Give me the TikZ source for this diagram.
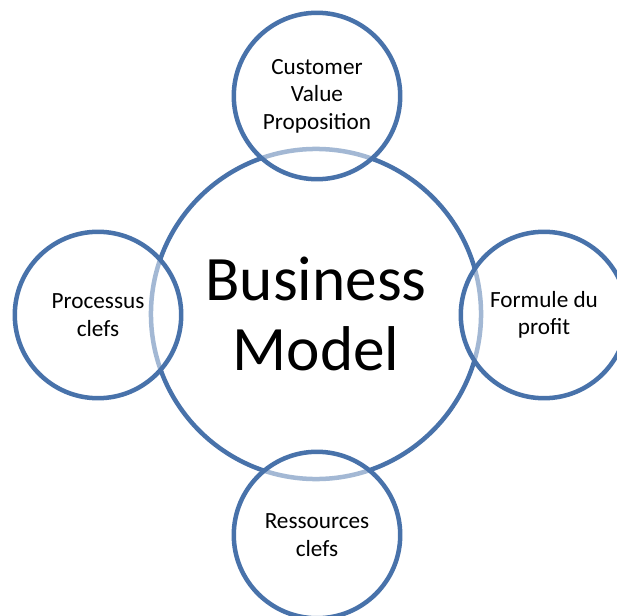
\documentclass[tikz,border=0pt]{standalone}
\usepackage{fontspec}
\setmainfont{Carlito}
\usepackage{tikz}
\usetikzlibrary{positioning}
\definecolor{bmblue}{RGB}{72,114,170}
\tikzset{
  ring/.style={circle, draw=bmblue, line width=3.2pt, fill=white, align=center, inner sep=0pt},
  satellite/.style={ring, minimum size=4.16cm, fill opacity=0.5, text opacity=1, font=\fontsize{16.5}{19.5}\selectfont},
}

\begin{document}
\begin{tikzpicture}[x=0.025cm, y=-0.025cm]
    \useasboundingbox (0,0) rectangle (617,616);
    % Centre
    \node[ring, minimum size=8.25cm, font=\fontsize{45}{50}\selectfont] (bm) at (316,314) {Business\\Model};

    % Satellites
    \node[satellite] (cvp) at (317,96) {Customer\\Value\\Proposition};
    \node[satellite] (proc) at (98,315) {Processus\\clefs};
    \node[satellite] (profit) at (544,315) {Formule du\\profit};
    \node[satellite] (res) at (317,535) {Ressources\\clefs};
\end{tikzpicture}
\end{document}
